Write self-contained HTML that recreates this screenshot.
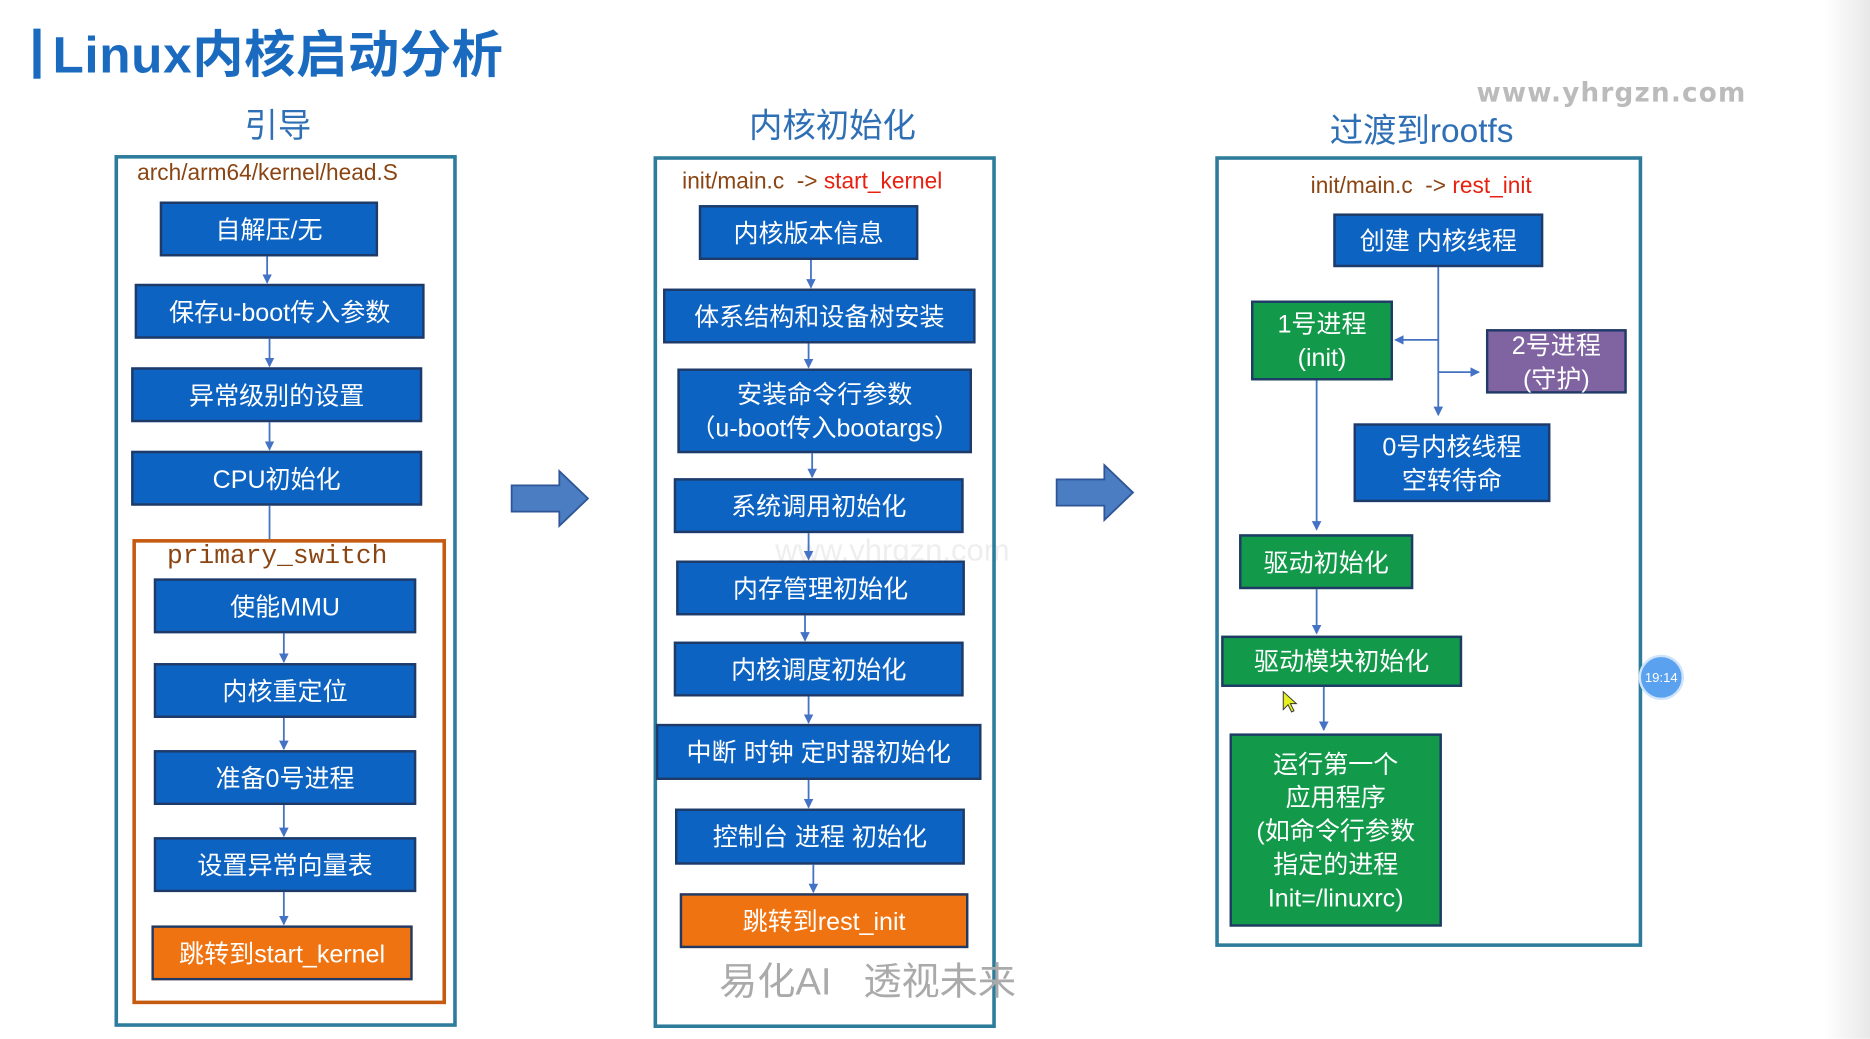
<!DOCTYPE html>
<html><head><meta charset="utf-8">
<style>
html,body{margin:0;padding:0;background:#fff;overflow:hidden;width:1870px;height:1039px;}
#s{position:absolute;left:0;top:0;width:1568px;height:871px;transform:scale(1.19260);transform-origin:0 0;font-family:"Liberation Sans","Noto Sans CJK SC",sans-serif;}
.a{position:absolute;}
.b{position:absolute;box-sizing:border-box;background:#0d63c2;border:2px solid #1f3a66;color:#fff;font-size:21px;display:flex;align-items:center;justify-content:center;text-align:center;line-height:28px;white-space:nowrap;padding-top:3px;}
.g{background:#12994a;border-color:#1f3a66;}
.p{background:#8064a2;}
.o{background:#f07311;border-color:#1f3a66;}
.panel{position:absolute;box-sizing:border-box;border:3px solid #2e7c9c;}
.h{position:absolute;color:#2f6fb5;font-size:28px;white-space:nowrap;}
.t{position:absolute;font-size:19px;color:#8a4513;white-space:nowrap;}
.r{color:#e82010;}
</style></head><body>
<div id="s">
<div class="a" style="left:28px;top:24px;width:6px;height:42px;background:#1a6bbf"></div>
<div class="a" style="left:44px;top:12px;font-size:43px;font-weight:bold;color:#1a6bbf;white-space:nowrap;letter-spacing:0.5px;">Linux内核启动分析</div>
<div class="h" style="left:205px;top:84px;">引导</div>
<div class="h" style="left:628px;top:84px;">内核初始化</div>
<div class="h" style="left:1115px;top:88px;">过渡到rootfs</div>
<div class="a" style="left:1238px;top:66px;font-size:22px;color:#bbb;font-weight:bold;letter-spacing:1px;font-family:'DejaVu Sans',sans-serif;">www.yhrgzn.com</div>
<div class="a" style="left:650px;top:446px;font-size:26px;color:#eee;">www.yhrgzn.com</div>

<!-- panel 1 -->
<div class="panel" style="left:96px;top:130px;width:287px;height:731px;"></div>
<div class="t" style="left:115px;top:135px;">arch/arm64/kernel/head.S</div>
<div class="b" style="left:134px;top:169px;width:183px;height:46px;">自解压/无</div>
<div class="b" style="left:113px;top:238px;width:243px;height:46px;">保存u-boot传入参数</div>
<div class="b" style="left:110px;top:308px;width:244px;height:46px;">异常级别的设置</div>
<div class="b" style="left:110px;top:378px;width:244px;height:46px;">CPU初始化</div>
<div class="a" style="left:111px;top:452px;width:263px;height:390px;box-sizing:border-box;border:3px solid #c55a11;"></div>
<div class="a" style="left:140px;top:454px;font-family:'Liberation Mono',monospace;font-size:22px;color:#8a4513;">primary_switch</div>
<div class="b" style="left:129px;top:485px;width:220px;height:46px;">使能MMU</div>
<div class="b" style="left:129px;top:556px;width:220px;height:46px;">内核重定位</div>
<div class="b" style="left:129px;top:629px;width:220px;height:46px;">准备0号进程</div>
<div class="b" style="left:129px;top:702px;width:220px;height:46px;">设置异常向量表</div>
<div class="b o" style="left:127px;top:776px;width:219px;height:46px;">跳转到start_kernel</div>

<!-- panel 2 -->
<div class="panel" style="left:548px;top:131px;width:287px;height:731px;"></div>
<div class="t" style="left:572px;top:142px;">init/main.c&nbsp; -&gt; <span class="r">start_kernel</span></div>
<div class="b" style="left:586px;top:172px;width:184px;height:46px;">内核版本信息</div>
<div class="b" style="left:556px;top:242px;width:262px;height:46px;">体系结构和设备树安装</div>
<div class="b" style="left:568px;top:309px;width:247px;height:71px;">安装命令行参数<br>（u-boot传入bootargs）</div>
<div class="b" style="left:565px;top:401px;width:243px;height:46px;">系统调用初始化</div>
<div class="b" style="left:567px;top:470px;width:242px;height:46px;">内存管理初始化</div>
<div class="b" style="left:565px;top:538px;width:243px;height:46px;">内核调度初始化</div>
<div class="b" style="left:550px;top:607px;width:273px;height:47px;">中断 时钟 定时器初始化</div>
<div class="b" style="left:566px;top:678px;width:243px;height:47px;">控制台 进程 初始化</div>
<div class="b o" style="left:570px;top:749px;width:242px;height:46px;">跳转到rest_init</div>
<div class="a" style="left:603px;top:798px;font-size:32px;color:#aaa;white-space:nowrap;">易化AI&nbsp;&nbsp; 透视未来</div>

<!-- panel 3 -->
<div class="panel" style="left:1019px;top:131px;width:358px;height:663px;"></div>
<div class="t" style="left:1099px;top:146px;">init/main.c&nbsp; -&gt; <span class="r">rest_init</span></div>
<div class="b" style="left:1118px;top:179px;width:176px;height:45px;">创建 内核线程</div>
<div class="b g" style="left:1049px;top:252px;width:119px;height:67px;">1号进程<br>(init)</div>
<div class="b p" style="left:1246px;top:276px;width:118px;height:54px;">2号进程<br>(守护)</div>
<div class="b" style="left:1135px;top:355px;width:165px;height:66px;">0号内核线程<br>空转待命</div>
<div class="b g" style="left:1039px;top:448px;width:146px;height:46px;">驱动初始化</div>
<div class="b g" style="left:1024px;top:533px;width:202px;height:43px;">驱动模块初始化</div>
<div class="b g" style="left:1031px;top:615px;width:178px;height:162px;">运行第一个<br>应用程序<br>(如命令行参数<br>指定的进程<br>Init=/linuxrc)</div>

<svg class="a" style="left:0;top:0" width="1568" height="871">
<defs><marker id="m" markerWidth="8" markerHeight="8" refX="7" refY="4" orient="auto" markerUnits="userSpaceOnUse"><path d="M0,0L8,4L0,8z" fill="#4472c4"/></marker></defs>
<g stroke="#4472c4" stroke-width="1.5" fill="none" marker-end="url(#m)">
<line x1="224" y1="215" x2="224" y2="237"/>
<line x1="226" y1="284" x2="226" y2="307"/>
<line x1="226" y1="354" x2="226" y2="377"/>
<line x1="226" y1="424" x2="226" y2="452" marker-end="none"/>
<line x1="238" y1="531" x2="238" y2="555"/>
<line x1="238" y1="602" x2="238" y2="628"/>
<line x1="238" y1="675" x2="238" y2="701"/>
<line x1="238" y1="748" x2="238" y2="775"/>
<line x1="680" y1="218" x2="680" y2="241"/>
<line x1="678" y1="288" x2="678" y2="308"/>
<line x1="681" y1="380" x2="681" y2="400"/>
<line x1="678" y1="447" x2="678" y2="469"/>
<line x1="675" y1="516" x2="675" y2="537"/>
<line x1="678" y1="584" x2="678" y2="606"/>
<line x1="678" y1="654" x2="678" y2="677"/>
<line x1="682" y1="725" x2="682" y2="748"/>
<line x1="1206" y1="224" x2="1206" y2="348"/>
<line x1="1206" y1="285" x2="1170" y2="285"/>
<line x1="1206" y1="312" x2="1240" y2="312"/>
<line x1="1104" y1="319" x2="1104" y2="444"/>
<line x1="1104" y1="494" x2="1104" y2="531"/>
<line x1="1110" y1="576" x2="1110" y2="612"/>
</g>
<path d="M429,407h40v-12l24,23l-24,23v-12h-40z" fill="#4a7dc2" stroke="#2f5597" stroke-width="1.5"/>
<path d="M886,402h40v-12l24,23l-24,23v-12h-40z" fill="#4a7dc2" stroke="#2f5597" stroke-width="1.5"/>
<circle cx="1393" cy="568" r="18" fill="#5aa2f0" stroke="#cfe3fa" stroke-width="2"/>
<text x="1393" y="572" font-size="11" fill="#fff" text-anchor="middle" font-family="Liberation Sans">19:14</text>
<path d="M1076,580l0,15l4,-4l3,6l2,-1l-3,-6l5,0z" fill="#e6f020" stroke="#333" stroke-width="0.8"/>
</svg>
<div class="a" style="left:1530px;top:0;width:38px;height:871px;background:linear-gradient(to right,#fff,#e8e8e8);"></div>
</div>
</body></html>
